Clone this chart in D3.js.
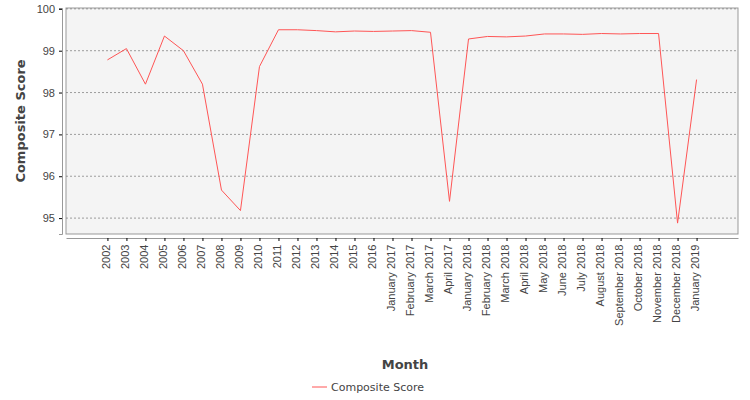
<!DOCTYPE html>
<html><head><meta charset="utf-8">
<script src="https://cdn.jsdelivr.net/npm/d3@7"></script>
<style>body{margin:0;background:#fff;font-family:"DejaVu Sans",sans-serif}</style>
</head><body><div id="chart"></div>
<script>
var months = ["2002","2003","2004","2005","2006","2007","2008","2009","2010","2011","2012","2013","2014","2015","2016",
  "January 2017","February 2017","March 2017","April 2017","January 2018","February 2018","March 2018","April 2018",
  "May 2018","June 2018","July 2018","August 2018","September 2018","October 2018","November 2018","December 2018","January 2019"];
var scores = [98.78,99.05,98.2,99.35,99.0,98.2,95.67,95.18,98.62,99.5,99.5,99.48,99.45,99.47,99.46,
  99.47,99.48,99.44,95.4,99.28,99.34,99.33,99.35,99.4,99.4,99.39,99.41,99.4,99.41,99.41,94.88,98.31];
var yTicks = [95,96,97,98,99,100];

var svg = d3.select("#chart").append("svg").attr("width",750).attr("height",400);
var pLeft = 66, pRight = 738, pTop = 8, pBottom = 234;

var x = d3.scalePoint().domain(months).range([pLeft,pRight]).padding(2.18);
var y = d3.scaleLinear().domain([94.62,100.02]).range([pBottom,pTop]);

svg.append("rect").attr("x",pLeft).attr("y",pTop).attr("width",pRight-pLeft).attr("height",pBottom-pTop)
  .attr("fill","#f4f4f4").attr("stroke","#999");

yTicks.forEach(function(t){
  svg.append("line").attr("x1",pLeft).attr("x2",pRight).attr("y1",y(t)).attr("y2",y(t))
    .attr("stroke","#777").attr("stroke-dasharray","2,2").attr("stroke-width",0.7);
});

var ya = svg.append("g").attr("transform","translate("+(pLeft-4)+",0)")
  .call(d3.axisLeft(y).tickValues(yTicks).tickFormat(d3.format("d")).tickSize(3).tickPadding(4));
ya.select(".domain").attr("stroke","#999");
ya.selectAll("text").attr("font-size",11).attr("fill","#444");

var xa = svg.append("g").attr("transform","translate(0,"+(pBottom+4)+")")
  .call(d3.axisBottom(x).tickSize(3).tickSizeOuter(0));
xa.select(".domain").attr("stroke","#999");
xa.selectAll("text").attr("font-size",11).attr("fill","#444")
  .attr("transform","rotate(-90)").attr("text-anchor","end").attr("dx","-0.6em").attr("dy","-0.4em");

svg.append("path").datum(scores)
  .attr("d",d3.line().x(function(d,i){return x(months[i]);}).y(function(d){return y(d);}))
  .attr("fill","none").attr("stroke","#ff5555").attr("stroke-width",1);

svg.append("text").attr("x",(pLeft+pRight)/2+3).attr("y",369).attr("text-anchor","middle")
  .attr("font-size",13).attr("font-weight","bold").attr("fill","#444").text("Month");
svg.append("text").attr("transform","translate(25,"+((pTop+pBottom)/2)+") rotate(-90)")
  .attr("text-anchor","middle").attr("font-size",13).attr("font-weight","bold").attr("fill","#444").text("Composite Score");

svg.append("line").attr("x1",312).attr("x2",327).attr("y1",387).attr("y2",387).attr("stroke","#ff5555");
svg.append("text").attr("x",331).attr("y",391).attr("font-size",11).attr("fill","#444").text("Composite Score");
</script></body></html>
